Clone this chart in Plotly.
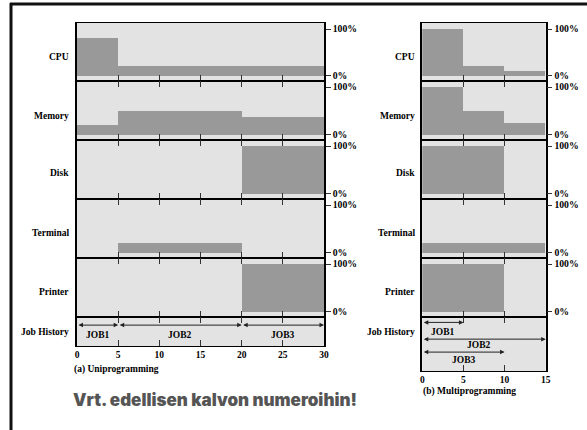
import plotly.graph_objects as go

W, H = 587, 430

# ---------------- data ----------------
resources = ["CPU", "Memory", "Disk", "Terminal", "Printer"]

uni_times = [0, 5, 20, 30]
uni_cpu = [0.80, 0.20, 0.20]
uni_memory = [0.20, 0.50, 0.37]
uni_disk = [0.0, 0.0, 1.0]
uni_terminal = [0.0, 0.20, 0.0]
uni_printer = [0.0, 0.0, 1.0]

multi_times = [0, 5, 10, 15]
multi_cpu = [1.0, 0.20, 0.10]
multi_memory = [1.0, 0.50, 0.25]
multi_disk = [1.0, 1.0, 0.0]
multi_terminal = [0.20, 0.20, 0.20]
multi_printer = [1.0, 1.0, 0.0]

uni_jobs = ["JOB1", "JOB2", "JOB3"]
uni_job_start = [0, 5, 20]
uni_job_end = [5, 20, 30]

multi_jobs = ["JOB1", "JOB2", "JOB3"]
multi_job_start = [0, 0, 0]
multi_job_end = [5, 15, 10]

uni_xticks = [0, 5, 10, 15, 20, 25, 30]
multi_xticks = [0, 5, 10, 15]
pct_tickvals = [0, 1]
pct_ticktext = ["0%", "100%"]

uni_caption = "(a) Uniprogramming"
multi_caption = "(b) Multiprogramming"
note_text = "Vrt. edellisen kalvon numeroihin!"
job_label = "Job History"

# ---------------- layout helpers ----------------
def px(x):
    return x / W

def py(y):
    return 1 - y / H

SERIF = "Liberation Serif"
BAR = "#999999"
BG = "#e3e3e3"

rows_px = [(23, 81), (81, 140), (140, 199), (199, 258), (258, 317)]
job_rows_px = [(317, 346), (317, 371)]
cols_px = [(77, 324), (422.3, 545.7)]
label_right_px = [71, 416.5]
label_y_px = [56.7, 115.7, 173.3, 232.7, 291.7, 331.7]

panels = [
    dict(times=uni_times, series=[uni_cpu, uni_memory, uni_disk, uni_terminal, uni_printer],
         jobs=uni_jobs, js=uni_job_start, je=uni_job_end, xticks=uni_xticks,
         job_levels=[(0.72, 0.38)] * 3, label_shift=[0, 0, 0]),
    dict(times=multi_times, series=[multi_cpu, multi_memory, multi_disk, multi_terminal, multi_printer],
         jobs=multi_jobs, js=multi_job_start, je=multi_job_end, xticks=multi_xticks,
         job_levels=[(0.90, 0.73), (0.59, 0.49), (0.35, 0.20)], label_shift=[0, -6, 0]),
]

fig = go.Figure()
layout = dict(
    width=W, height=H,
    margin=dict(l=0, r=0, t=0, b=0, pad=0),
    paper_bgcolor="white", plot_bgcolor=BG,
    showlegend=False, bargap=0,
)
annotations = []
shapes = []

for c, pan in enumerate(panels):
    x0p, x1p = cols_px[c]
    times = pan["times"]
    for r in range(6):
        idx = c * 6 + r + 1
        xa = "x" if idx == 1 else f"x{idx}"
        ya = "y" if idx == 1 else f"y{idx}"
        xkey = "xaxis" if idx == 1 else f"xaxis{idx}"
        ykey = "yaxis" if idx == 1 else f"yaxis{idx}"
        if r < 5:
            top, bot = rows_px[r]
        else:
            top, bot = job_rows_px[c]
        layout[xkey] = dict(
            domain=[px(x0p), px(x1p)], anchor=ya, range=[0, times[-1]],
            tickvals=pan["xticks"], ticks="inside", ticklen=6, tickwidth=1, tickcolor="#333",
            showline=True, linecolor="black", linewidth=1,
            mirror=True if r == 0 else "ticks",
            showgrid=False, zeroline=False, fixedrange=True, automargin=False,
            showticklabels=(r == 5),
            tickfont=dict(family=SERIF, size=9.5, color="black", weight="bold"),
        )
        if r < 5:
            h = bot - top
            unit = h - 11.5
            yr = [-5.5 / unit, 1 + 6 / unit]
            layout[ykey] = dict(
                domain=[py(bot), py(top)], anchor=xa, side="right", range=yr,
                tickvals=pct_tickvals, ticktext=pct_ticktext,
                ticks="outside", ticklen=5, tickwidth=1, tickcolor="#333",
                showline=True, linecolor="black", linewidth=1.5, mirror=True,
                showgrid=False, zeroline=False, fixedrange=True, automargin=False,
                tickfont=dict(family=SERIF, size=9.7, color="black", weight="bold"),
            )
            vals = pan["series"][r]
            widths = [times[i + 1] - times[i] for i in range(len(vals))]
            fig.add_trace(go.Bar(
                x=times[:-1], y=vals, width=widths, offset=0, base=0,
                marker=dict(color=BAR, line=dict(width=0)),
                xaxis=xa, yaxis=ya, hoverinfo="skip",
            ))
        else:
            layout[ykey] = dict(
                domain=[py(bot), py(top)], anchor=xa, side="right", range=[0, 1],
                showticklabels=False, ticks="",
                showline=True, linecolor="black", linewidth=1.5, mirror=True,
                showgrid=False, zeroline=False, fixedrange=True, automargin=False,
            )
            for j, name in enumerate(pan["jobs"]):
                ay_level, lab_level = pan["job_levels"][j]
                s, e = pan["js"][j], pan["je"][j]
                annotations.append(dict(
                    x=e, y=ay_level, ax=s, ay=ay_level,
                    xref=xa, yref=ya, axref=xa, ayref=ya,
                    text="", showarrow=True, arrowhead=2, startarrowhead=2,
                    arrowside="end+start", arrowsize=0.9, startarrowsize=0.9,
                    arrowwidth=1, arrowcolor="#222", standoff=0, startstandoff=0,
                ))
                annotations.append(dict(
                    x=(s + e) / 2, y=lab_level, xref=xa, yref=ya,
                    xshift=pan["label_shift"][j],
                    text=name, showarrow=False, xanchor="center", yanchor="middle",
                    font=dict(family=SERIF, size=9.5, color="black", weight="bold"),
                ))
        lab = resources[r] if r < 5 else job_label
        annotations.append(dict(
            x=px(label_right_px[c]), y=py(label_y_px[r]), xref="paper", yref="paper",
            text=lab, showarrow=False, xanchor="right", yanchor="middle",
            font=dict(family=SERIF, size=9.5, color="black", weight="bold"),
        ))

annotations.append(dict(x=px(72), y=py(369.3), xref="paper", yref="paper", text=uni_caption,
                        showarrow=False, xanchor="left", yanchor="middle",
                        font=dict(family=SERIF, size=9.5, color="black", weight="bold")))
annotations.append(dict(x=px(420.7), y=py(391), xref="paper", yref="paper", text=multi_caption,
                        showarrow=False, xanchor="left", yanchor="middle",
                        font=dict(family=SERIF, size=9.5, color="black", weight="bold")))
annotations.append(dict(x=px(71), y=py(400), xref="paper", yref="paper", text=note_text,
                        showarrow=False, xanchor="left", yanchor="middle",
                        font=dict(family="Inter", size=17, color="#555555", weight=900)))

shapes.append(dict(type="line", xref="paper", yref="paper", x0=px(10), x1=1.0, y0=py(4), y1=py(4),
                   line=dict(color="#111", width=3)))
shapes.append(dict(type="line", xref="paper", yref="paper", x0=px(11), x1=px(11), y0=py(3), y1=0,
                   line=dict(color="#111", width=3)))

layout["annotations"] = annotations
layout["shapes"] = shapes
fig.update_layout(**layout)
fig.write_html("out.html", config={"displayModeBar": False},
               post_script="document.body.style.margin='0px';")
